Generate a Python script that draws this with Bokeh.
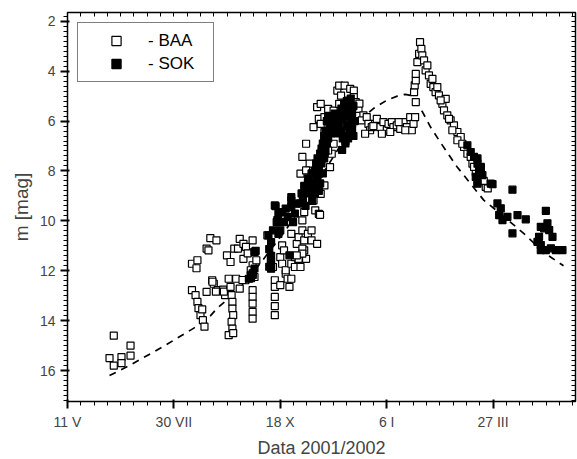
from bokeh.plotting import figure
from bokeh.models import (Range1d, FixedTicker, LinearAxis, Legend, LegendItem)
from bokeh.embed import file_html
from bokeh.resources import INLINE

# x = days since 11 May 2001
tick_days = [0, 80, 160, 240, 320]
tick_labels = ["11 V", "30 VII", "18 X", "6 I", "27 III"]
minor_days = list(range(0, 390, 10))
mag_ticks = [2, 4, 6, 8, 10, 12, 14, 16]
minor_mags = [round(1.8 + 0.2 * i, 1) for i in range(78)]

baa_day = [31.6, 34.8, 34.8, 40.6, 40.6, 47.4, 47.4,
           93.6, 97.7, 93.6, 96.3, 97.7, 98.5, 100, 101.8, 103, 107.4, 112, 104.6, 106,
           108.8, 110, 112.9, 117, 104.6, 118.5, 97, 101.3, 109, 111.6, 117.6,
           121.2, 122.6, 123.4, 124, 124, 124.6, 123.4, 124, 121.2, 124.6, 119.9, 122.6,
           125.4, 128.2, 129.5, 132.3, 126.8, 129.5, 132.3, 133.7, 139.2, 140.6, 139.2,
           139.2, 139.2, 139.2, 139.2, 139.2, 140.6, 137.8, 142, 131.6, 134.2, 135.5,
           150.3, 154.5, 155.9, 155.9, 155.9, 155.9, 155.9, 160, 161.4, 161.4, 162.8,
           164.1, 164.1, 165.5, 166.9, 168.3, 168.3, 171, 171, 172.4, 173.8, 173.8,
           175.2, 176.6, 176.6, 178, 178, 178, 179.4, 180.8, 176.6, 183.5, 176.6, 187.7,
           183.5, 172.4, 168.3, 160,
           175.2, 182.1, 180.8, 186.3, 185, 186.3, 189, 190.4, 193.2, 190.4, 185, 189,
           193.2, 198.7, 197.4, 200.1, 187.7, 196, 200.1, 202.9, 204.3, 208.4, 212.6,
           215.3, 204.3, 211.2, 215.3, 216.7, 205.7, 209.8, 200.1, 193.2, 190.4, 179.4,
           176.6, 179.4, 183.5, 189, 187.7, 196, 193.2, 190.4, 197.4, 189.9,
           218.8, 222.5, 221.3, 225, 226.3, 227.5, 231.3, 232.6, 235.1, 237.6, 240.1,
           241.4, 243.9, 245.1, 247.6, 250.2, 252.7, 255.2, 257.7, 258.9, 260.2, 261.4,
           223.8, 228.8, 236.4, 242.7, 249, 254, 219.5, 230,
           261.9, 260.6, 261.1, 261.9, 261.9, 263.1, 264.4, 265.1, 266.1, 266.8, 268.1,
           269.3, 271.8, 273.1, 275.1, 276.8, 279.3, 281.9, 284.4, 283.1, 285.6, 288.1,
           290.6, 293.2, 295.7, 298.2, 300.7, 304.5, 307, 310.8, 314.5, 270.6, 274.4,
           278.1, 280.6, 286.9, 289.4, 293.2, 296.9, 303.2, 305.7, 313, 316]
baa_mag = [15.5, 14.6, 15.8, 15.46, 15.7, 15.0, 15.4,
           11.72, 11.58, 12.78, 12.98, 13.25, 13.5, 13.78, 13.98, 14.24, 10.69, 10.78,
           11.11, 11.18, 12.38, 12.52, 12.78, 12.76, 12.85, 12.98, 11.9, 13.55, 12.44,
           12.84, 12.84,
           12.32, 12.65, 12.98, 13.25, 13.52, 13.78, 14.05, 14.32, 14.58, 14.5, 11.38,
           11.65, 11.11, 11.11, 10.72, 10.92, 12.32, 12.72, 11.52, 12.38, 10.78, 11.25,
           11.78, 12.78, 13.05, 13.32, 13.65, 13.92, 12.25, 11.98, 11.58, 12.37, 11.04,
           11.3,
           10.58, 11.85, 12.38, 12.65, 13.05, 13.42, 13.78, 11.45, 11.72, 10.98, 11.18,
           12.12, 11.98, 12.32, 12.65, 11.72, 10.52, 11.85, 11.45, 10.92, 10.65, 11.52,
           11.85, 10.38, 9.98, 9.65, 10.78, 11.18, 11.52, 10.52, 11.11, 10.78, 11.31,
           10.92, 10.38, 11.38, 12.32, 12.58,
           8.11, 7.71, 8.45, 8.58, 9.18, 9.58, 9.72, 8.92, 8.58, 7.31, 6.24, 5.91, 6.78,
           7.31, 7.85, 6.91, 5.44, 5.51, 5.58, 4.78, 4.58, 4.58, 4.71, 4.78, 5.31, 5.18,
           5.04, 5.24, 4.98, 5.58, 5.84, 5.84, 5.31, 6.91, 7.44, 7.98, 8.11, 8.11, 7.91,
           7.18, 6.44, 6.11, 6.11, 9.76,
           5.51, 5.77, 5.97, 5.84, 6.11, 6.37, 6.11, 5.91, 6.24, 6.04, 6.37, 6.11, 6.04,
           6.24, 6.17, 6.31, 6.04, 6.24, 5.84, 6.37, 6.11, 5.84, 6.51, 6.24, 6.51, 6.44,
           6.04, 6.37, 5.3, 6.2,
           5.24, 4.84, 4.57, 4.37, 4.11, 3.64, 3.31, 2.84, 3.11, 3.37, 3.57, 3.97, 4.17,
           4.51, 4.64, 4.84, 4.97, 5.31, 5.11, 5.57, 5.77, 5.97, 6.17, 6.44, 6.64, 7.04,
           7.31, 7.71, 8.04, 8.24, 8.64, 3.77, 4.31, 4.64, 5.17, 5.91, 6.37, 6.77, 6.91,
           7.44, 7.84, 8.4, 8.7]

sok_day = [140.6, 139.2, 137.8, 136.4, 140.6, 141.5, 139.3, 138,
           153.1, 153.1, 153.1, 151.7, 153.1, 151.1, 154.5, 155.9, 157.3, 158.6, 161.4,
           164.1, 165.5, 168.3, 168.3, 162.8, 160, 166.9, 168.3, 171, 172.4, 169.6,
           158.6, 156.5, 157.8, 152.9, 151.7,
           175, 176, 177, 178, 179, 180, 181, 182, 183, 184, 184, 185, 186, 186, 187,
           187, 188, 188, 189, 189, 190, 190, 191, 191, 192, 192, 193, 193, 194, 194,
           195, 195, 196, 196, 197, 198, 198, 199, 200, 201, 202, 203, 204, 205, 206,
           206, 207, 208, 208, 209, 209, 210, 210, 211, 211, 212, 213, 213, 214, 214,
           215, 215, 216, 212, 207, 206.5, 203, 209,
           300.7, 303.2, 305.7, 308.3, 309.5, 307, 308.3, 310.8, 312, 319.6,
           308.3, 310.8, 308.3, 318.3, 334.6, 323.3, 325.8, 324.6, 327.1, 330.8, 334.6,
           338.4, 344.6, 359.7, 355.9, 360.9, 362.2, 364.7, 354.6, 355.9, 355.9, 359.7,
           363.5, 367.2, 372.2, 353.4, 358.4]
sok_mag = [11.24, 12.1, 12.18, 12.32, 11.91, 11.2, 12.17, 12.3,
           11.4, 11.65, 11.92, 11.13, 10.85, 10.58, 10.38, 9.38, 10.05, 10.52, 9.65,
           9.51, 9.85, 9.45, 9.05, 10.05, 10.38, 11.38, 9.18, 9.71, 9.31, 10.05,
           9.72, 9.41, 9.97, 11.57, 11.84,
           9.3, 8.9, 9.1, 8.6, 9.4, 8.8, 8.3, 8.9, 8.5, 8.1, 9.2, 8.7, 8.0, 8.9, 7.7,
           8.4, 8.2, 7.5, 8.8, 7.9, 7.3, 8.5, 7.7, 7.1, 8.1, 6.9, 7.5, 6.6, 7.2, 6.4,
           6.9, 6.0, 6.7, 5.8, 6.3, 6.5, 5.9, 6.1, 6.2, 5.7, 6.0, 6.3, 6.1, 5.8, 5.5,
           6.4, 5.9, 5.3, 6.6, 5.6, 6.8, 5.2, 6.2, 5.8, 6.7, 5.4, 6.0, 5.1, 6.3, 5.7,
           5.4, 6.6, 6.0, 6.5, 6.7, 7.16, 6.5, 6.9,
           6.97, 7.24, 7.44, 7.71, 7.97, 8.24, 8.51, 7.84, 8.17, 8.53,
           7.5, 7.9, 8.44, 8.51, 8.75, 9.3, 9.5, 9.77, 9.97, 9.84, 10.5, 9.77, 9.94,
           9.6, 10.24, 10.1, 10.37, 10.64, 10.64, 10.97, 11.17, 11.17, 11.1, 11.17,
           11.17, 10.84, 10.3]

model_day = [31.6, 45, 70, 95, 107.6, 112.6, 128, 145, 165, 185, 205, 220, 230, 240,
             248, 254, 258, 261, 267, 273, 281, 287, 293, 301, 307, 313, 323, 333, 343,
             353, 363.5, 373]
model_mag = [16.2, 15.84, 15.1, 14.3, 13.8, 13.5, 12.8, 11.7, 10.3, 8.7, 7.0, 5.95, 5.5,
             5.17, 5.0, 4.93, 4.97, 5.17, 5.64, 6.24, 6.9, 7.37, 7.84, 8.37, 8.77, 9.17,
             9.6, 10.05, 10.5, 11.0, 11.46, 11.8]

FONT = "Liberation Sans"

p = figure(frame_width=508, frame_height=389, output_backend="svg",
           toolbar_location=None, x_range=Range1d(0, 382), y_range=Range1d(17.24, 1.65),
           min_border_left=67, min_border_top=12, min_border_right=2, min_border_bottom=0)
p.xgrid.visible = False
p.ygrid.visible = False
p.outline_line_color = "black"
p.outline_line_width = 1.5

xa = p.xaxis[0]
xa.ticker = FixedTicker(ticks=tick_days, minor_ticks=minor_days)
xa.major_tick_line_color = "black"
xa.major_tick_line_width = 2
xa.major_tick_out = 7
xa.major_label_overrides = {d: l for d, l in zip(tick_days, tick_labels)}
xa.major_label_text_font = FONT
xa.major_label_text_font_size = "14px"
xa.axis_label = "Data 2001/2002"
xa.axis_label_text_font = FONT
xa.axis_label_text_font_size = "18px"
xa.axis_label_text_font_style = "normal"

ya = p.yaxis[0]
ya.ticker.num_minor_ticks = 10
ya.major_tick_line_color = "black"
ya.major_tick_line_width = 2
ya.major_tick_out = 7
ya.major_label_text_font = FONT
ya.major_label_text_font_size = "14px"
ya.axis_label = "m [mag]"
ya.axis_label_text_font = FONT
ya.axis_label_text_font_size = "19px"
ya.axis_label_text_font_style = "normal"

# unlabeled mirror axes on top and right: inward ticks drawn as minor ticks
top = LinearAxis(ticker=FixedTicker(ticks=[], minor_ticks=minor_days))
top.minor_tick_in = 4
top.minor_tick_out = 0
top.major_label_standoff = 0
p.add_layout(top, "above")

right = LinearAxis(ticker=FixedTicker(ticks=[], minor_ticks=minor_mags))
right.minor_tick_in = 4
right.minor_tick_out = 0
right.major_label_standoff = 0
p.add_layout(right, "right")

p.line(model_day, model_mag, line_color="black", line_width=1.7, line_dash="7 6")

r_baa = p.scatter(baa_day, baa_mag, marker="square", size=7, fill_color="white",
                  line_color="black", line_width=1.2)
r_sok = p.scatter(sok_day, sok_mag, marker="square", size=7, fill_color="black",
                  line_color="black", line_width=1.2)

legend = Legend(items=[LegendItem(label="- BAA", renderers=[r_baa]),
                       LegendItem(label="- SOK", renderers=[r_sok])],
                location="top_left", margin=10, padding=6, spacing=0,
                glyph_width=64, glyph_height=23, label_height=23, label_width=59,
                label_standoff=-3, label_text_font=FONT, label_text_font_size="17px",
                label_text_color="black", border_line_color="black",
                border_line_width=1.5, background_fill_alpha=1.0)
p.add_layout(legend, "center")

open("out.html", "w").write(file_html(p, INLINE))
